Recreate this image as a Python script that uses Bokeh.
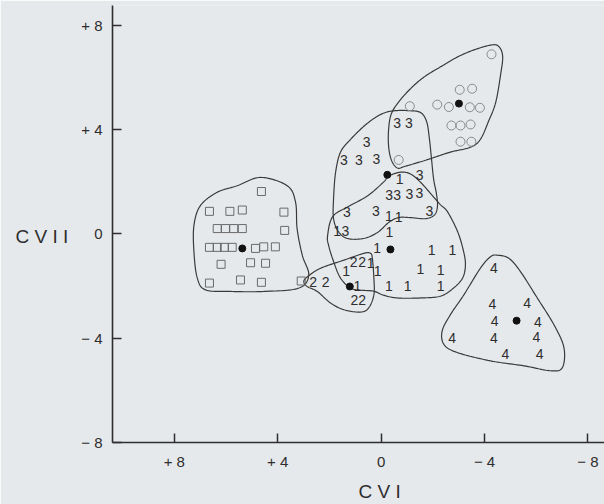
import numpy as np
from bokeh.plotting import figure
from bokeh.models import Range1d, FixedTicker, ColumnDataSource
from bokeh.core.properties import value
from bokeh.embed import file_html
from bokeh.resources import INLINE

# ---- canonical variate scores (CV I, CV II) ----
# group 1 (plotted as "1")
g1_x = [-0.72, -0.30, -0.68, -0.32, 0.15, -1.95, -2.76, 1.35, 0.41, 0.13, -1.52, -2.30, 0.92, -0.30, -1.03, -2.30, 1.70]
g1_y = [2.10, 0.70, 0.64, 0.07, -0.56, -0.63, -0.63, -1.41, -1.13, -1.41, -1.36, -1.39, -2.02, -2.02, -2.02, -2.02, 0.10]
# group 2 (plotted as "2")
g2_x = [1.06, 0.73, 2.63, 2.15, 1.03, 0.73]
g2_y = [-1.10, -1.10, -1.86, -1.86, -2.53, -2.53]
# group 3 (plotted as "3")
g3_x = [-0.62, -1.07, 0.56, 1.44, 0.86, 0.18, -1.49, -0.31, -0.62, -1.09, -1.48, 1.32, 0.20, -1.87, 1.38]
g3_y = [4.23, 4.23, 3.52, 2.83, 2.83, 2.86, 2.27, 1.47, 1.47, 1.53, 1.55, 0.83, 0.86, 0.88, 0.10]
# group 4 (plotted as "4")
g4_x = [-4.36, -4.30, -5.65, -4.39, -6.06, -2.75, -4.36, -6.01, -4.81, -6.13]
g4_y = [-1.30, -2.69, -2.65, -3.33, -3.38, -3.98, -4.01, -3.96, -4.59, -4.59]
# squares
sq_x = [4.63, 6.64, 5.85, 5.37, 3.76, 6.34, 6.02, 5.70, 5.37, 3.73, 6.64, 6.34, 6.06, 5.76,
        4.86, 4.54, 4.09, 6.19, 5.05, 4.47, 6.64, 5.44, 4.63, 3.09]
sq_y = [1.62, 0.86, 0.86, 0.91, 0.83, 0.20, 0.20, 0.20, 0.20, 0.13, -0.52, -0.52, -0.52, -0.52,
        -0.56, -0.50, -0.50, -1.17, -1.11, -1.13, -1.89, -1.77, -1.86, -1.81]
# circles
ci_x = [-4.27, -3.04, -3.52, -1.11, -2.17, -2.62, -3.43, -3.82, -2.72, -3.07, -3.46, -3.07, -3.49, -0.68]
ci_y = [6.88, 5.52, 5.56, 4.89, 4.95, 4.86, 4.85, 4.83, 4.15, 4.15, 4.19, 3.53, 3.53, 2.83]

# group means
mean_x = [-0.36, 1.21, -0.24, -5.24, 5.37, -3.01]
mean_y = [-0.60, -2.02, 2.26, -3.33, -0.56, 4.99]

# ---- group envelopes (vertices of hand-drawn outlines) ----
env_sq_x = [4.66, 3.63, 3.31, 3.25, 3.05, 2.80, 3.18, 4.54, 5.83, 6.79, 7.11, 7.24, 7.24, 6.99, 6.34, 5.57]
env_sq_y = [2.16, 1.84, 1.21, 0.20, -0.82, -1.58, -2.08, -2.21, -2.21, -2.15, -1.70, -0.69, 0.32, 1.08, 1.59, 1.84]

env_g2_x = [2.84, 2.34, 1.44, 0.67, 0.41, 0.34, 0.28, 0.28, 0.48, 0.80, 1.44, 1.96, 2.47, 2.86, 2.99]
env_g2_y = [-1.64, -1.32, -1.01, -0.75, -0.75, -0.94, -1.70, -2.34, -2.84, -3.00, -2.91, -2.65, -2.21, -2.02, -1.83]

env_g3_x = [-0.17, -0.56, -1.06, -1.52, -1.76, -1.87, -1.95, -2.03, -2.14, -2.18, -2.07, -1.72, -1.14,
            -0.67, -0.29, 0.14, 0.68, 1.30, 1.65, 1.84, 1.84, 1.76, 1.57, 1.18, 0.68, 0.22]
env_g3_y = [4.65, 4.72, 4.72, 4.65, 4.30, 3.62, 2.86, 2.10, 1.53, 1.07, 0.73, 0.58, 0.62,
            0.62, 0.43, 0.05, -0.18, -0.18, 0.08, 0.58, 1.34, 2.36, 3.13, 3.62, 4.11, 4.46]

env_g1_x = [2.07, 1.88, 1.30, 0.53, -0.09, -0.29, -0.75, -1.14, -1.52, -2.03, -2.30, -2.57, -2.96, -3.19,
            -3.26, -3.15, -2.80, -2.30, -1.52, -0.63, -0.09, 0.29, 0.80, 1.18, 1.57, 1.84, 2.03]
env_g1_y = [-0.07, 0.65, 1.03, 1.45, 1.98, 2.21, 2.36, 2.29, 1.98, 1.41, 1.11, 0.84, 0.08, -0.68,
            -1.21, -1.70, -2.08, -2.39, -2.46, -2.46, -2.35, -2.20, -2.16, -2.08, -1.70, -1.06, -0.45]

env_ci_x = [-4.23, -4.54, -4.70, -4.62, -4.43, -4.15, -3.84, -3.46, -2.68, -1.72, -0.94, -0.63, -0.40,
            -0.29, -0.29, -0.40, -0.75, -1.25, -1.72, -2.30, -2.96, -3.57]
env_ci_y = [7.23, 7.19, 6.81, 6.09, 5.03, 4.30, 3.62, 3.32, 3.13, 2.82, 2.59, 2.52, 2.82,
            3.35, 4.00, 4.61, 5.14, 5.67, 6.05, 6.40, 6.78, 7.04]

env_g4_x = [-4.49, -4.94, -5.39, -6.04, -6.68, -7.07, -7.01, -6.55, -5.52, -4.23, -2.94, -2.43, -2.36,
            -2.68, -3.20, -3.84, -4.23]
env_g4_y = [-0.82, -0.94, -1.45, -2.46, -3.48, -4.36, -5.13, -5.25, -5.06, -4.87, -4.55, -4.24, -3.73,
            -3.10, -2.34, -1.32, -0.88]

tick_values = [8, 4, 0, -4, -8]
tick_text = ["+ 8", "+ 4", "0", "\u2212 4", "\u2212 8"]

FONT = "Liberation Sans"
INK = "#2e2e2e"
BG = "#e6e9ec"
NBSP = "\u00a0"


def closed_curve(xs, ys, n=14):
    """Periodic Catmull-Rom spline through the envelope vertices."""
    pts = np.column_stack([xs, ys]).astype(float)
    m = len(pts)
    out = []
    for i in range(m):
        p0, p1, p2, p3 = pts[(i - 1) % m], pts[i], pts[(i + 1) % m], pts[(i + 2) % m]
        for t in np.linspace(0, 1, n, endpoint=False):
            t2, t3 = t * t, t * t * t
            out.append(0.5 * ((2 * p1) + (-p0 + p2) * t
                              + (2 * p0 - 5 * p1 + 4 * p2 - p3) * t2
                              + (-p0 + 3 * p1 - 3 * p2 + p3) * t3))
    out.append(out[0])
    out = np.array(out)
    return out[:, 0], out[:, 1]


p = figure(width=604, height=504, output_backend="svg", toolbar_location=None,
           x_range=Range1d(10.39, -8.64), y_range=Range1d(-8.0, 8.75),
           min_border_left=112, min_border_right=0, min_border_top=5, min_border_bottom=61)
p.background_fill_color = BG
p.border_fill_color = BG
p.outline_line_color = None
p.grid.visible = False

for ax in (p.xaxis[0], p.yaxis[0]):
    ax.ticker = FixedTicker(ticks=tick_values)
    ax.major_label_overrides = dict(zip(tick_values, tick_text))
    ax.axis_line_color = INK
    ax.axis_line_width = 1.6
    ax.major_tick_line_color = INK
    ax.major_tick_line_width = 1.5
    ax.major_tick_in = 9
    ax.major_tick_out = 0
    ax.minor_tick_line_color = None
    ax.major_label_text_font = FONT
    ax.major_label_text_font_size = "15px"
    ax.major_label_text_color = INK
    ax.major_label_standoff = 10
    ax.axis_label_text_font = FONT
    ax.axis_label_text_font_style = "normal"
    ax.axis_label_text_color = INK

# axis titles: the x title sits under the zero tick, the y title level with zero
p.xaxis[0].axis_label = NBSP * 8 + "C V I"
p.xaxis[0].axis_label_text_font_size = "19px"
p.xaxis[0].axis_label_standoff = 8
p.yaxis[0].axis_label = "\nC V I I"
p.yaxis[0].axis_label_orientation = "horizontal"
p.yaxis[0].axis_label_text_font_size = "19px"
p.yaxis[0].axis_label_standoff = 10

# envelopes
for ex, ey in [(env_sq_x, env_sq_y), (env_g2_x, env_g2_y), (env_g3_x, env_g3_y),
               (env_g1_x, env_g1_y), (env_ci_x, env_ci_y), (env_g4_x, env_g4_y)]:
    cx, cy = closed_curve(ex, ey)
    p.line(cx, cy, line_color="#3a3a3a", line_width=1.2)

# open symbols
p.scatter(sq_x, sq_y, marker="square", size=8, fill_color=None, line_color="#6a6a6a", line_width=1)
p.scatter(ci_x, ci_y, marker="circle", size=9, fill_color=None, line_color="#8a8a8a", line_width=1)

# numbered groups
for gx, gy, lab in [(g1_x, g1_y, "1"), (g2_x, g2_y, "2"), (g3_x, g3_y, "3"), (g4_x, g4_y, "4")]:
    src = ColumnDataSource(dict(x=gx, y=gy, t=[lab] * len(gx)))
    p.text(x="x", y="y", text="t", source=src, text_font=value(FONT), text_font_size="14px",
           text_color=INK, text_align="center", text_baseline="middle")

# group means
p.scatter(mean_x, mean_y, marker="circle", size=7, fill_color="#111111", line_color="#111111")

open("out.html", "w").write(file_html(p, INLINE))
